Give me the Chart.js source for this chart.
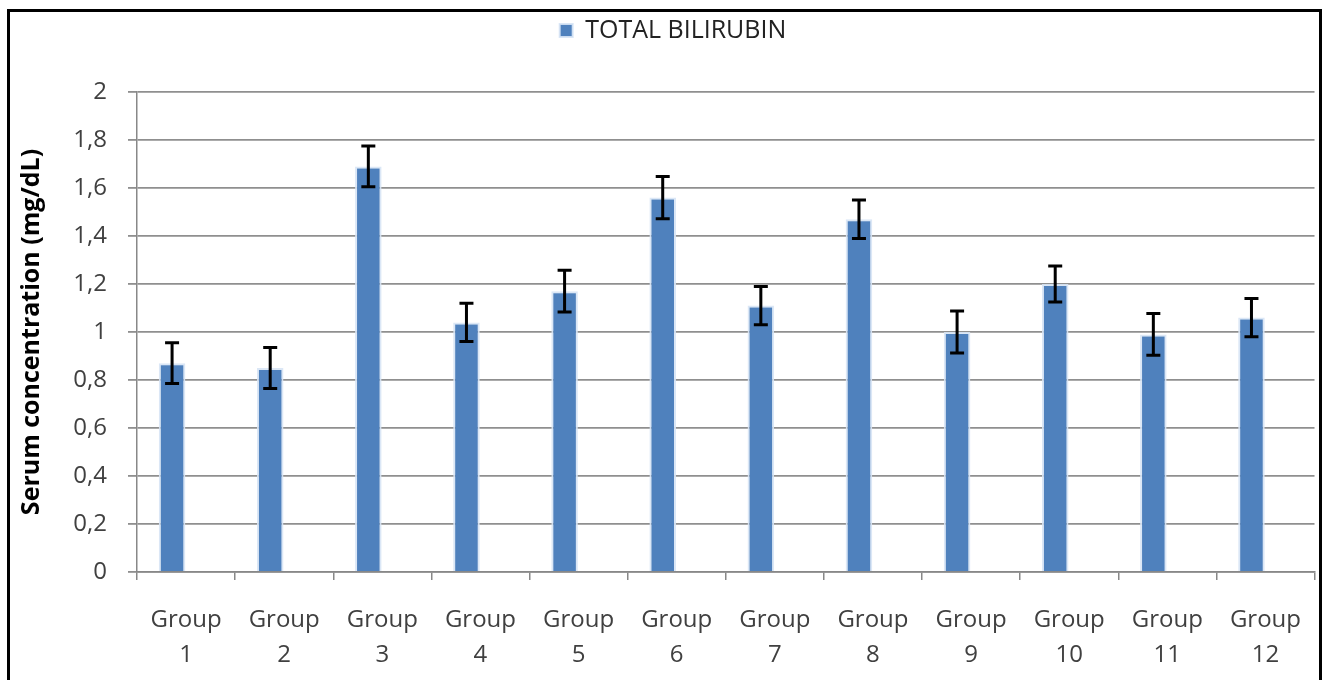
<!DOCTYPE html>
<html>
<head>
<meta charset="utf-8">
<script src="https://cdn.jsdelivr.net/npm/chart.js@4"></script>
<style>
  html, body { margin: 0; padding: 0; background: #fff; }
  #wrap { position: relative; width: 1324px; height: 680px; overflow: hidden; }
  #frame { position: absolute; left: 7px; top: 9px; width: 1309px; height: 700px; border: 3px solid #000; }
  canvas { position: absolute; left: 0; top: 0; }
</style>
</head>
<body>
<div id="wrap">
  <div id="frame"></div>
  <canvas id="grafico" width="1324" height="680"></canvas>
</div>
<script>
// datos
var grupos = [["Group","1"],["Group","2"],["Group","3"],["Group","4"],["Group","5"],["Group","6"],
              ["Group","7"],["Group","8"],["Group","9"],["Group","10"],["Group","11"],["Group","12"]];
var bilirrubina = [0.87, 0.85, 1.69, 1.04, 1.17, 1.56, 1.11, 1.47, 1.00, 1.20, 0.99, 1.06];
var errores = [0.085, 0.085, 0.085, 0.08, 0.087, 0.088, 0.08, 0.08, 0.088, 0.075, 0.087, 0.08];
var vacia = [null, null, null, null, null, null, null, null, null, null, null, null];
var ticksY = [0, 0.2, 0.4, 0.6, 0.8, 1, 1.2, 1.4, 1.6, 1.8, 2];

var fuente = "'Open Sans', sans-serif";

// barras de error
var barrasError = {
    id: 'barrasError',
    afterDatasetsDraw: function (chart) {
        var c = chart.ctx;
        var y = chart.scales.y;
        var meta = chart.getDatasetMeta(0);
        c.save();
        c.strokeStyle = '#000';
        c.lineWidth = 3;
        meta.data.forEach(function (bar, i) {
            var v = bilirrubina[i], e = errores[i];
            var top = y.getPixelForValue(v + e), bot = y.getPixelForValue(v - e);
            c.beginPath();
            c.moveTo(bar.x, top); c.lineTo(bar.x, bot);
            c.moveTo(bar.x - 7, top); c.lineTo(bar.x + 7, top);
            c.moveTo(bar.x - 7, bot); c.lineTo(bar.x + 7, bot);
            c.stroke();
        });
        c.restore();
    }
};

// espacio fijo para la leyenda
var altoLeyenda = {
    id: 'altoLeyenda',
    beforeInit: function (chart) {
        var fit = chart.legend.fit;
        chart.legend.fit = function () {
            fit.bind(chart.legend)();
            this.height = 92;
        };
    }
};

var ctx = document.getElementById('grafico').getContext('2d');
var grafico = new Chart(ctx, {
    type: 'bar',
    data: {
        labels: grupos,
        datasets: [{
            label: 'TOTAL BILIRUBIN',
            data: bilirrubina,
            backgroundColor: '#4F81BD',
            borderColor: 'rgba(215,228,245,0.9)',
            borderWidth: 2,
            borderSkipped: 'bottom',
            barPercentage: 0.95,
            categoryPercentage: 0.57
        }, {
            label: '',
            data: vacia,
            backgroundColor: '#C0504D',
            barPercentage: 0.95,
            categoryPercentage: 0.57
        }]
    },
    options: {
        responsive: false,
        animation: false,
        layout: { autoPadding: false, padding: { left: 17, right: -5, top: 0, bottom: 0 } },
        plugins: {
            tooltip: { enabled: false },
            legend: {
                position: 'top',
                labels: {
                    font: { family: fuente, size: 25 },
                    color: '#222',
                    boxWidth: 13,
                    boxHeight: 13,
                    padding: 18,
                    filter: function (item) { return item.datasetIndex === 0; }
                }
            }
        },
        scales: {
            x: {
                grid: { display: true, drawOnChartArea: false, offset: true, tickLength: 8, color: '#888', lineWidth: 1.5 },
                border: { color: '#888', width: 1.5 },
                ticks: { font: { family: fuente, size: 24, lineHeight: 1.45 }, color: '#404040', padding: 23, maxRotation: 0 },
                afterFit: function (s) { s.height = 108; }
            },
            y: {
                min: 0,
                max: 2,
                afterBuildTicks: function (s) { s.ticks = ticksY.map(function (v) { return { value: v }; }); },
                ticks: {
                    font: { family: fuente, size: 24 },
                    color: '#404040',
                    padding: 21,
                    callback: function (v) { return String(Math.round(v * 10) / 10).replace('.', ','); }
                },
                grid: { color: '#8f8f8f', lineWidth: 1.8, tickLength: 9 },
                border: { color: '#888', width: 1.5 },
                title: {
                    display: true,
                    text: 'Serum concentration (mg/dL)',
                    font: { family: fuente, size: 25, weight: 'bold' },
                    color: '#000',
                    padding: { top: 0, bottom: 8 }
                },
                afterFit: function (s) { s.width = 120; }
            }
        }
    },
    plugins: [barrasError, altoLeyenda]
});
</script>
</body>
</html>
